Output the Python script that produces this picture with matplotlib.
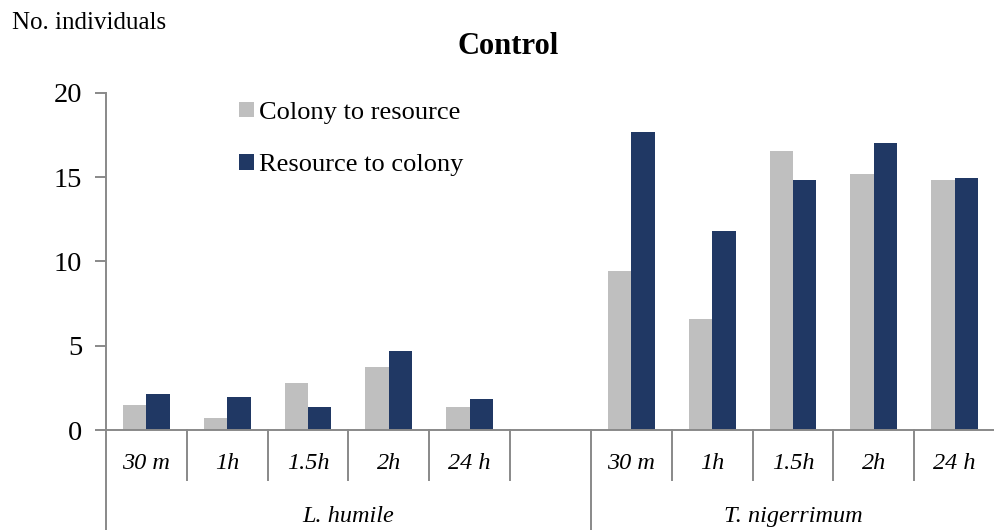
import matplotlib

matplotlib.use("Agg")
import matplotlib.pyplot as plt
import numpy as np

# No. individuals per time point, two transport directions, two species
times = ["30 m", "1h", "1.5h", "2h", "24 h"]
species = ["L. humile", "T. nigerrimum"]
series_names = ["Colony to resource", "Resource to colony"]

humile_to_resource = [1.48, 0.69, 2.76, 3.73, 1.34]
humile_to_colony = [2.13, 1.97, 1.34, 4.67, 1.81]
nigerrimum_to_resource = [9.45, 6.57, 16.57, 15.15, 14.83]
nigerrimum_to_colony = [17.69, 11.80, 14.83, 17.04, 14.97]

yticks = [0, 5, 10, 15, 20]

COLOR_GRAY = "#bfbfbf"
COLOR_NAVY = "#203864"
COLOR_AXIS = "#898989"

plt.rcParams["font.family"] = ["Liberation Serif", "DejaVu Serif"]

fig = plt.figure(figsize=(9.94, 5.30), dpi=100)
ax = fig.add_axes([106 / 994, 100 / 530, 889 / 994, 337.3 / 530])

# 11 slots: 5 times, an empty gap, 5 times
n = len(times)
pos_h = np.arange(n)
pos_n = np.arange(n) + n + 1
width = 0.29

ax.bar(pos_h - width / 2, humile_to_resource, width, color=COLOR_GRAY, label=series_names[0])
ax.bar(pos_h + width / 2, humile_to_colony, width, color=COLOR_NAVY, label=series_names[1])
ax.bar(pos_n - width / 2, nigerrimum_to_resource, width, color=COLOR_GRAY)
ax.bar(pos_n + width / 2, nigerrimum_to_colony, width, color=COLOR_NAVY)

ax.set_xlim(-0.5, 2 * n + 0.5)
ax.set_ylim(0, 20)
ax.set_yticks(yticks)
ax.tick_params(axis="y", length=8, width=1.4, color=COLOR_AXIS, labelsize=20.5, pad=9)
ax.set_xticks([])

for side in ("top", "right"):
    ax.spines[side].set_visible(False)
for side in ("left", "bottom"):
    ax.spines[side].set_color(COLOR_AXIS)
    ax.spines[side].set_linewidth(1.4)
ax.spines["left"].set_bounds(0, 20)

# category axis below the plot: short separators between times, long ones between species
trans = ax.get_xaxis_transform()
short_y, long_y = -0.148, -0.30
for b in np.arange(0.5, 2 * n + 0.5, 1.0):
    y_end = long_y if b == n + 0.5 else short_y
    ax.plot([b, b], [0, y_end], transform=trans, color=COLOR_AXIS, lw=1.4, clip_on=False)
ax.plot([-0.5, -0.5], [0, long_y], transform=trans, color=COLOR_AXIS, lw=1.4, clip_on=False)

for p, t in zip(list(pos_h) + list(pos_n), times + times):
    ax.text(p, -0.1, t, transform=trans, ha="center", va="center",
            fontsize=17.5, style="italic")

ax.text((-0.5 + n + 0.5) / 2, -0.255, species[0], transform=trans,
        ha="center", va="center", fontsize=17.5, style="italic")
ax.text((n + 0.5 + 2 * n + 0.5) / 2, -0.255, species[1], transform=trans,
        ha="center", va="center", fontsize=17.5, style="italic")

ax.legend(loc="upper left", bbox_to_anchor=(0.138, 1.005), frameon=False, fontsize=19,
          handlelength=0.55, handleheight=0.55, handletextpad=0.2, labelspacing=1.15,
          borderaxespad=0)

fig.text(12 / 994, 1 - 23 / 530, "No. individuals", fontsize=18, va="center", ha="left")
fig.text(508 / 994, 1 - 47 / 530, "Control", fontsize=22, fontweight="bold",
         va="center", ha="center")

fig.savefig("out.png", dpi=100)
